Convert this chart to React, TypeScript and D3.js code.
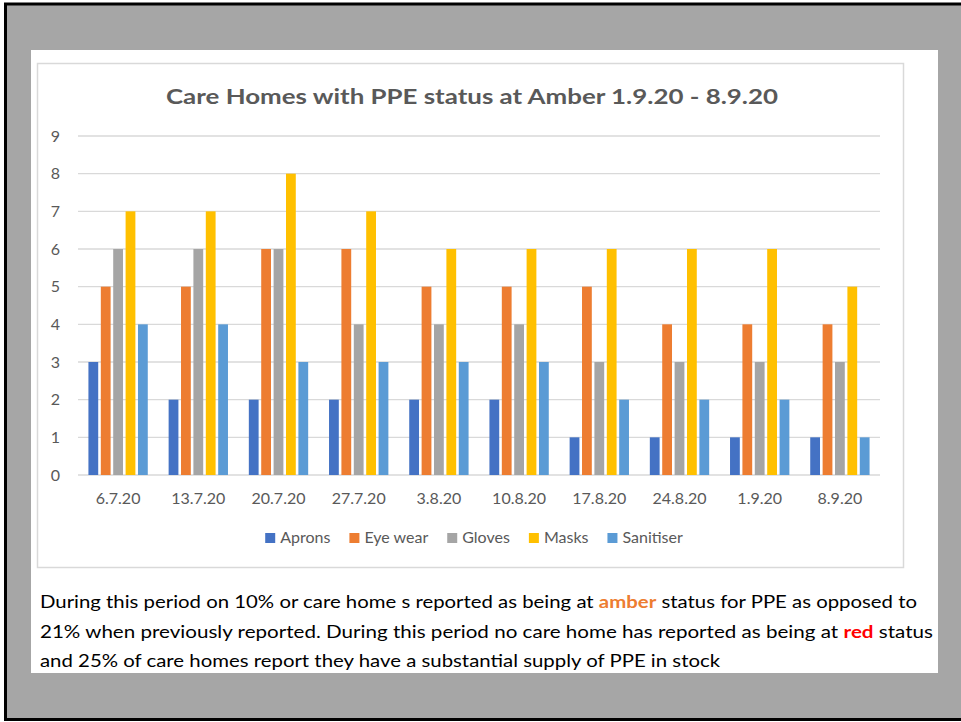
import React, { useEffect, useRef } from 'react';
import * as d3 from 'd3';

const categories = ['6.7.20', '13.7.20', '20.7.20', '27.7.20', '3.8.20', '10.8.20', '17.8.20', '24.8.20', '1.9.20', '8.9.20'];
const seriesNames = ['Aprons', 'Eye wear', 'Gloves', 'Masks', 'Sanitiser'];
const seriesColors = ['#4472C4', '#ED7D31', '#A5A5A5', '#FFC000', '#5B9BD5'];
const aprons = [3, 2, 2, 2, 2, 2, 1, 1, 1, 1];
const eyeWear = [5, 5, 6, 6, 5, 5, 5, 4, 4, 4];
const gloves = [6, 6, 6, 4, 4, 4, 3, 3, 3, 3];
const masks = [7, 7, 8, 7, 6, 6, 6, 6, 6, 5];
const sanitiser = [4, 4, 3, 3, 3, 3, 2, 2, 2, 1];
const yTicks = [0, 1, 2, 3, 4, 5, 6, 7, 8, 9];

const title = 'Care Homes with PPE status at Amber 1.9.20 - 8.9.20';

const font = 'Lato, "Open Sans", sans-serif';

const App = () => {
    const legendRef = useRef(null);
    const values = [aprons, eyeWear, gloves, masks, sanitiser];

    const x0 = d3.scaleBand().domain(categories).range([78, 880]).paddingInner(0.26).paddingOuter(0.13);
    const x1 = d3.scaleBand().domain(seriesNames).range([0, x0.bandwidth()]).paddingInner(0.21);
    const y = d3.scaleLinear().domain([0, 9]).range([475, 136]);

    useEffect(() => {
        // lay the legend out from measured text widths, centred under the plot
        const g = d3.select(legendRef.current);
        g.selectAll('*').remove();
        const items = g.selectAll('g').data(seriesNames).enter().append('g');
        items.append('rect').attr('width', 10).attr('height', 10).attr('y', -10)
            .attr('fill', (d, i) => seriesColors[i]);
        const labels = items.append('text').attr('x', 15).attr('y', 0)
            .attr('font-size', 16).attr('fill', '#595959').attr('font-family', font)
            .text(d => d);
        let pos = 0;
        const offsets: number[] = [];
        labels.each(function () {
            offsets.push(pos);
            pos += 15 + (this as SVGTextElement).getComputedTextLength() + 19;
        });
        const total = pos - 19;
        items.attr('transform', (d, i) => `translate(${474 - total / 2 + offsets[i]},0)`);
    }, []);

    return (
        <div style={{ position: 'absolute', left: 0, top: 0 }}>
            <svg width={961} height={722} style={{ display: 'block' }}>
                <rect x={0} y={0} width={961} height={722} fill="#ffffff" />
                <rect x={5.5} y={4} width={960} height={715.5} fill="#a6a6a6" stroke="#000" strokeWidth={3} />
                <rect x={31} y={50} width={907} height={623} fill="#ffffff" />
                <rect x={37.5} y={63.5} width={866} height={504} fill="#ffffff" stroke="#d9d9d9" strokeWidth={1.5} />

                <text x={472} y={104} textAnchor="middle" fontFamily={font} fontSize={21} fontWeight={700}
                    fill="#595959" textLength={612} lengthAdjust="spacingAndGlyphs">{title}</text>

                {yTicks.map(t => (
                    <g key={t}>
                        <line x1={78} x2={880} y1={y(t)} y2={y(t)} stroke="#d9d9d9" strokeWidth={1.3} />
                        <text x={60} y={y(t) + 5.5} textAnchor="end" fontFamily={font} fontSize={16} fill="#595959">{t}</text>
                    </g>
                ))}

                {categories.map((c, ci) => (
                    <g key={c} transform={`translate(${x0(c)},0)`}>
                        {seriesNames.map((s, si) => (
                            <rect key={s} x={x1(s)} width={x1.bandwidth()} y={y(values[si][ci])}
                                height={y(0) - y(values[si][ci])} fill={seriesColors[si]} />
                        ))}
                        <text x={x0.bandwidth() / 2} y={504} textAnchor="middle" fontFamily={font} fontSize={16} fill="#595959">{c}</text>
                    </g>
                ))}

                <g ref={legendRef} transform="translate(0,543)" />

                <g fontFamily={font} fontSize={17.5} fill="#000">
                    <text x={40} y={608} textLength={877} lengthAdjust="spacingAndGlyphs">
                        During this period on 10% or care home s reported as being at{' '}
                        <tspan fill="#ED7D31" fontWeight={700}>amber</tspan> status for PPE as opposed to
                    </text>
                    <text x={40} y={638} textLength={893} lengthAdjust="spacingAndGlyphs">
                        21% when previously reported.  During this period no care home has reported as being at{' '}
                        <tspan fill="#FF0000" fontWeight={700}>red</tspan> status
                    </text>
                    <text x={40} y={667} textLength={680} lengthAdjust="spacingAndGlyphs">
                        and 25% of care homes report they have a substantial supply of PPE in stock
                    </text>
                </g>
            </svg>
        </div>
    );
};

export default App;
